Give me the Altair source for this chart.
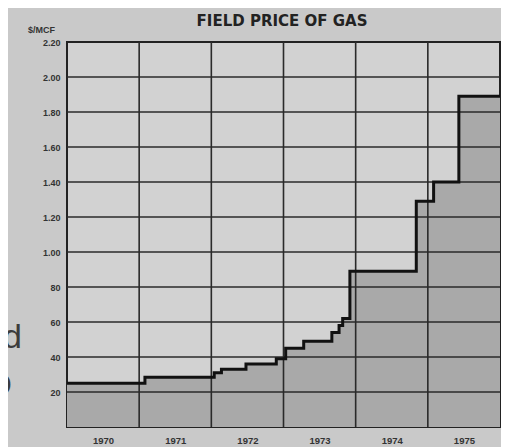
import altair as alt
import pandas as pd

# Step series: time of each price change (fractional year) and new price ($/MCF)
step_years = [1970.0, 1971.08, 1972.04, 1972.14, 1972.48, 1972.9, 1973.03, 1973.28,
              1973.67, 1973.77, 1973.82, 1973.92, 1974.84, 1975.08, 1975.43, 1976.0]
step_prices = [0.25, 0.285, 0.31, 0.33, 0.36, 0.39, 0.45, 0.49,
               0.54, 0.58, 0.62, 0.89, 1.29, 1.40, 1.89, 1.89]

year_lines = [1971, 1972, 1973, 1974, 1975]
price_lines = [0.2, 0.4, 0.6, 0.8, 1.0, 1.2, 1.4, 1.6, 1.8, 2.0]
year_label_pos = [1970.5, 1971.5, 1972.5, 1973.5, 1974.5, 1975.5]
price_ticks = [0.2, 0.4, 0.6, 0.8, 1.0, 1.2, 1.4, 1.6, 1.8, 2.0, 2.2]

title_text = ["FIELD PRICE OF GAS"]
page_fragments = ["ed", "O"]

series = pd.DataFrame({"year": step_years, "price": step_prices})
vlines = pd.DataFrame({"year": year_lines})
hlines = pd.DataFrame({"price": price_lines})
one_row = pd.DataFrame({"k": [0]})

label_font = "Liberation Sans"

x_scale = alt.Scale(domain=[1970, 1976], nice=False, zero=False)
y_scale = alt.Scale(domain=[0, 2.2], nice=False)

x_axis = alt.Axis(
    values=year_label_pos,
    labelExpr="format(floor(datum.value), 'd')",
    title=None, grid=False, ticks=False, domain=False,
    labelFontSize=9.5, labelFont=label_font, labelColor="#333",
    labelPadding=8, labelFontWeight="bold",
)
y_axis = alt.Axis(
    values=price_ticks,
    labelExpr="datum.value < 1 ? format(datum.value * 100, 'd') : format(datum.value, '.2f')",
    title="$/MCF", titleAngle=0, titleX=-26, titleY=-13,
    titleAlign="center", titleBaseline="middle",
    titleFontSize=9, titleFont=label_font, titleColor="#333", titleFontWeight="bold",
    grid=False, ticks=False, domain=False,
    labelFontSize=9, labelFont=label_font, labelColor="#333",
    labelPadding=7, labelFontWeight="bold",
)

x_enc = alt.X("year:Q", scale=x_scale, axis=x_axis)
y_enc = alt.Y("price:Q", scale=y_scale, axis=y_axis)

area = alt.Chart(series).mark_area(interpolate="step-after", color="#a9a9a9", opacity=1).encode(
    x=x_enc, y=y_enc
)
vrules = alt.Chart(vlines).mark_rule(color="#2a2a2a", strokeWidth=1.6).encode(x=x_enc)
hrules = alt.Chart(hlines).mark_rule(color="#2a2a2a", strokeWidth=1.6).encode(y=y_enc)
line = alt.Chart(series).mark_line(interpolate="step-after", color="#111111", strokeWidth=3).encode(
    x=x_enc, y=y_enc
)

title_mark = alt.Chart(one_row).mark_text(
    text=title_text[0], fontSize=15, font="DejaVu Sans", fontWeight="bold",
    align="center", baseline="alphabetic", color="#222",
).encode(x=alt.value(215), y=alt.value(-16))

# fragments of neighbouring page text at the left edge of the scan
frag1 = alt.Chart(one_row).mark_text(
    text=page_fragments[0], fontSize=34, font="Liberation Sans", align="right",
    baseline="alphabetic", color="#3c3c3c",
).encode(x=alt.value(-45), y=alt.value(306))
frag2 = alt.Chart(one_row).mark_text(
    text=page_fragments[1], fontSize=34, font="Liberation Sans", align="right",
    baseline="alphabetic", color="#3c3c3c",
).encode(x=alt.value(-55), y=alt.value(354))

chart = alt.layer(area, vrules, hrules, line, title_mark, frag1, frag2).properties(
    width=433,
    height=385,
    autosize=alt.AutoSizeParams(type="none"),
    padding={"left": 59, "top": 34, "right": 1, "bottom": 20},
    background="#c9c9c9",
).configure_view(
    fill="#d2d2d2", stroke="#222", strokeWidth=2
)

chart.save("out.html", embed_options={"renderer": "svg", "actions": False})
